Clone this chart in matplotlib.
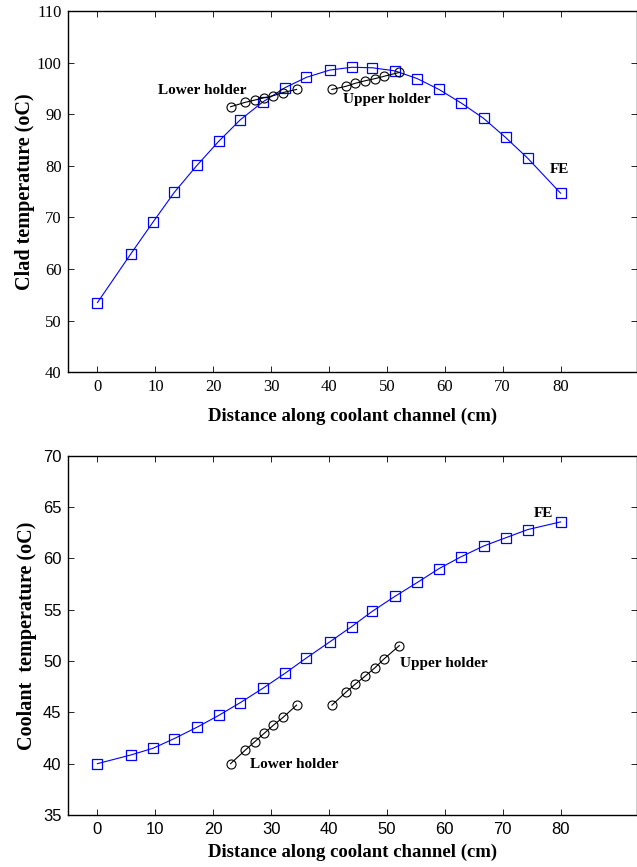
import matplotlib
matplotlib.use('Agg')
import matplotlib.pyplot as plt

# positions along the coolant channel (cm)
fe_x = [0, 5.8, 9.6, 13.3, 17.2, 20.95, 24.7, 28.6, 32.4, 36.1, 40.1,
        43.9, 47.5, 51.4, 55.25, 59.0, 62.8, 66.7, 70.5, 74.3, 80]
lower_x = [23.0, 25.5, 27.2, 28.8, 30.4, 32.05, 34.4]
upper_x = [40.5, 42.9, 44.55, 46.3, 47.95, 49.5, 52.15]

# clad temperature (oC)
fe_clad = [53.5, 63.0, 69.1, 74.9, 80.1, 84.75, 88.95, 92.4, 95.15, 97.15,
           98.55, 99.1, 99.0, 98.4, 96.9, 94.8, 92.2, 89.2, 85.5, 81.5, 74.7]
lower_clad = [91.45, 92.3, 92.75, 93.2, 93.6, 94.2, 94.8]
upper_clad = [94.8, 95.4, 96.0, 96.5, 96.9, 97.35, 98.1]

# coolant temperature (oC)
fe_cool = [40.0, 40.85, 41.5, 42.45, 43.55, 44.7, 45.95, 47.35, 48.8, 50.3,
           51.85, 53.35, 54.85, 56.3, 57.65, 59.0, 60.15, 61.2, 62.0, 62.8, 63.55]
lower_cool = [40.0, 41.3, 42.15, 42.95, 43.75, 44.5, 45.7]
upper_cool = [45.7, 46.95, 47.75, 48.55, 49.35, 50.2, 51.5]

serif = 'Liberation Serif'
sans = 'Liberation Sans'

fig = plt.figure(figsize=(6.37, 8.67), dpi=100)
ax1 = fig.add_axes([0.1075, 0.5706, 0.8925, 0.4167])
ax2 = fig.add_axes([0.1075, 0.0600, 0.8925, 0.4144])


def draw_panel(ax, fe, low, up, ylim, yticks, tick_font, xpad):
    ax.plot(fe_x, fe, color='blue', linewidth=0.8, marker='s', markersize=7,
            markerfacecolor='none', markeredgecolor='blue', markeredgewidth=0.9)
    ax.plot(lower_x, low, color='black', linewidth=0.8, marker='o', markersize=6.5,
            markerfacecolor='none', markeredgewidth=0.8)
    ax.plot(upper_x, up, color='black', linewidth=0.8, marker='o', markersize=6.5,
            markerfacecolor='none', markeredgewidth=0.8)
    ax.set_xlim(-5, 93.2)
    ax.set_ylim(*ylim)
    ax.set_xticks(range(0, 81, 10))
    ax.set_yticks(yticks)
    ax.tick_params(direction='in', top=True, right=True, length=4, width=0.6,
                   labelsize=12, pad=5)
    for lab in ax.get_xticklabels() + ax.get_yticklabels():
        lab.set_family(tick_font)
    for sp in ax.spines.values():
        sp.set_linewidth(1.0)
    ax.set_xlabel('Distance along coolant channel (cm)', family=serif,
                  fontweight='bold', fontsize=13.5, labelpad=xpad)


draw_panel(ax1, fe_clad, lower_clad, upper_clad, (40, 110), range(40, 111, 10), serif, 9)
ax1.set_ylabel('Clad temperature (oC)', family=serif, fontweight='bold', fontsize=14.5,
               labelpad=1)
ax1.text(10.5, 94.6, 'Lower holder', family=serif, fontweight='bold', fontsize=11,
         va='center')
ax1.text(42.5, 92.8, 'Upper holder', family=serif, fontweight='bold', fontsize=11,
         va='center')
ax1.text(78.2, 79.2, 'FE', family=serif, fontweight='bold', fontsize=11, va='center')

draw_panel(ax2, fe_cool, lower_cool, upper_cool, (35, 70), range(35, 71, 5), sans, 5)
ax2.set_ylabel('Coolant  temperature (oC)', family=serif, fontweight='bold', fontsize=14.5,
               labelpad=4)
ax2.text(26.4, 39.9, 'Lower holder', family=serif, fontweight='bold', fontsize=11,
         va='center')
ax2.text(52.3, 49.8, 'Upper holder', family=serif, fontweight='bold', fontsize=11,
         va='center')
ax2.text(75.4, 64.4, 'FE', family=serif, fontweight='bold', fontsize=11, va='center')

fig.savefig('out.png', dpi=100)
